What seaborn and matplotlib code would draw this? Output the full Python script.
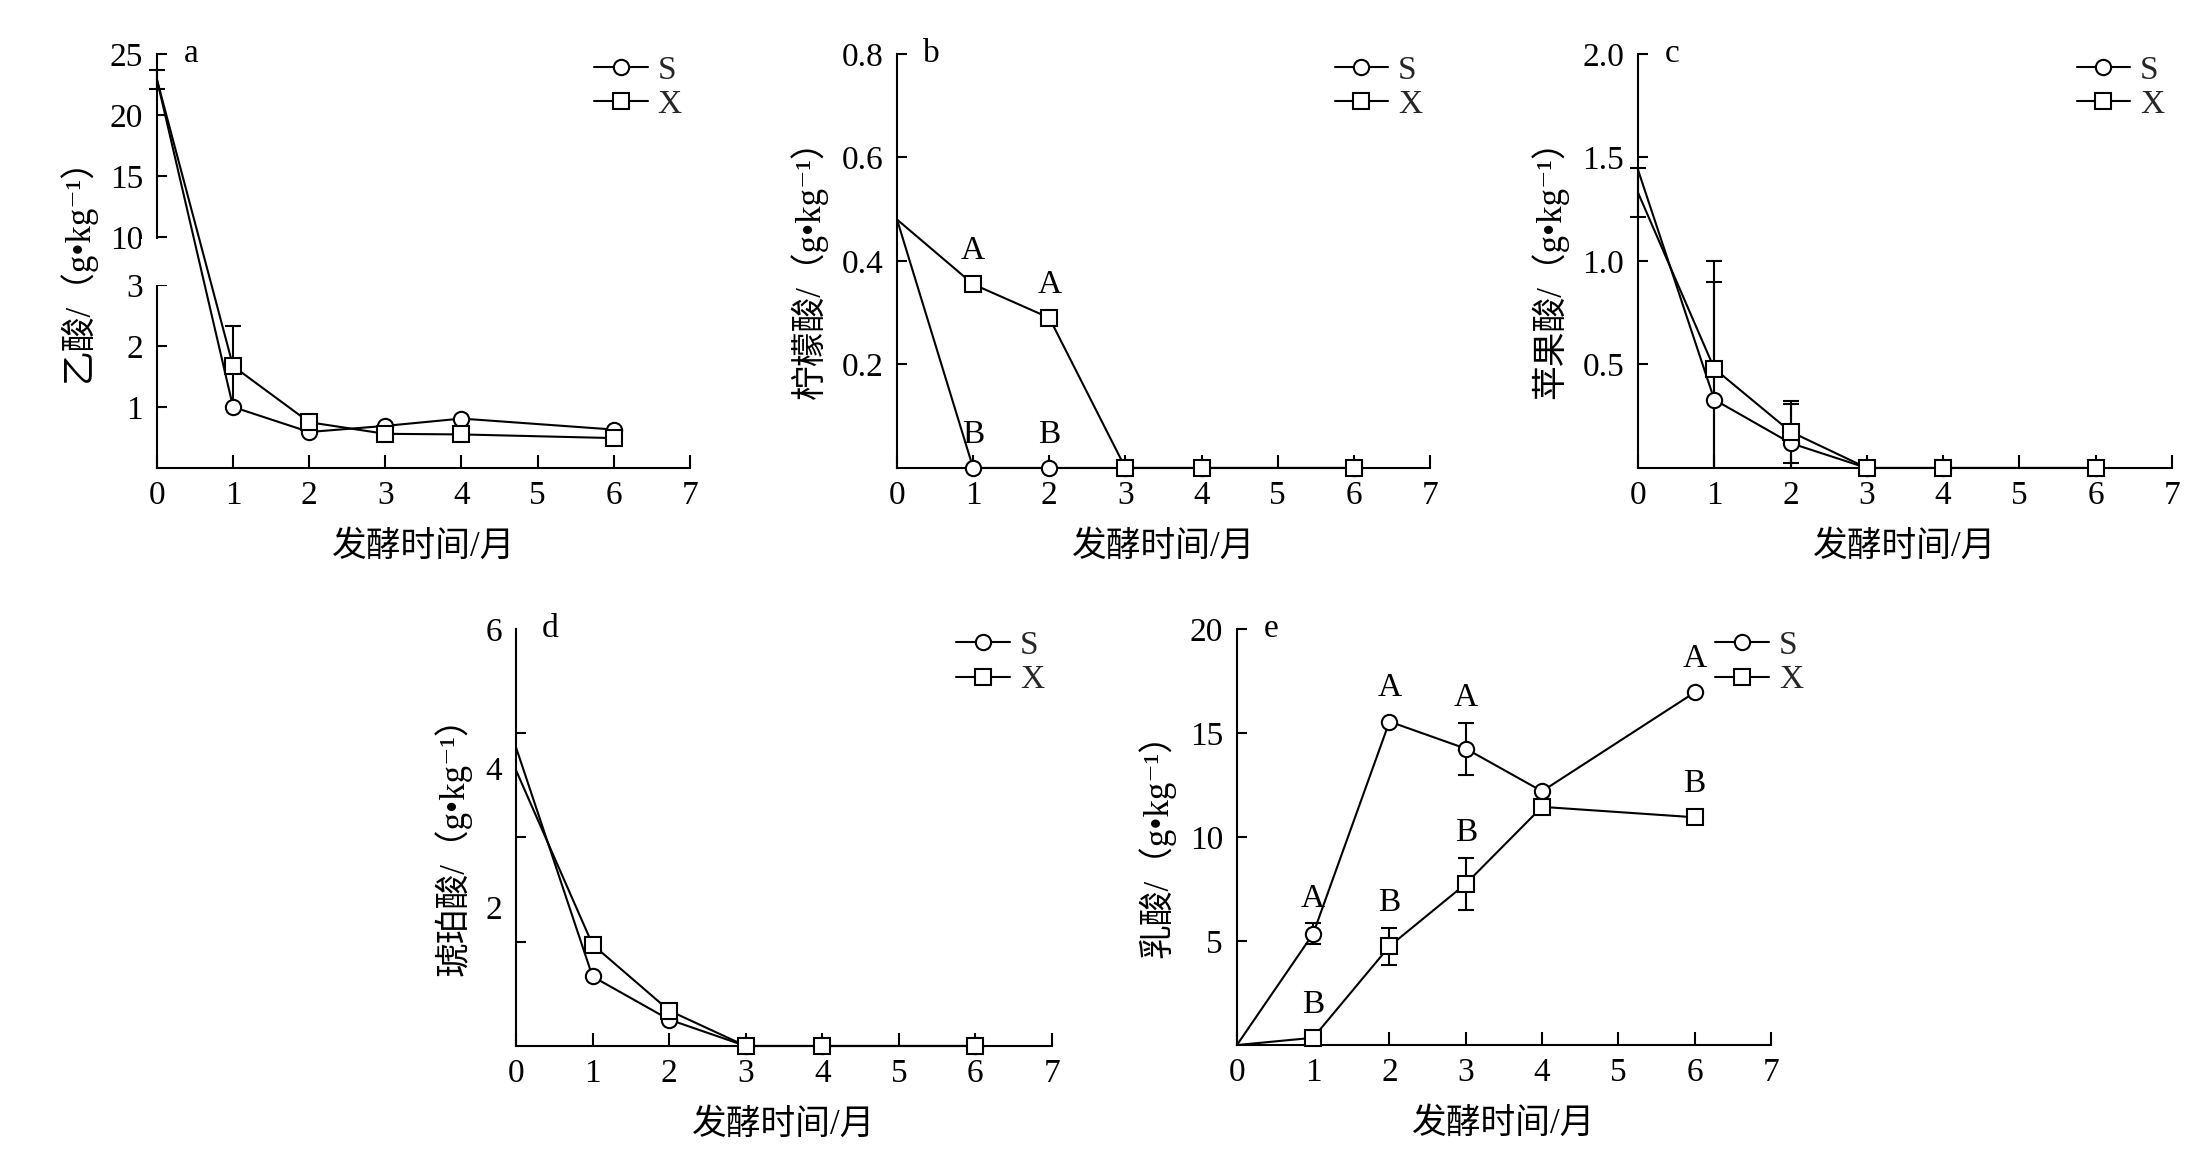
import numpy as np
import matplotlib
matplotlib.use("Agg")
import matplotlib.pyplot as plt
import seaborn as sns
from matplotlib.lines import Line2D
from matplotlib.ticker import FixedLocator, FormatStrFormatter

# ---------------- data ----------------
months = [0, 1, 2, 3, 4, 6]
xticks = [0, 1, 2, 3, 4, 5, 6, 7]
series_names = ["S", "X"]

acetic_S = [22.9, 1.00, 0.59, 0.69, 0.81, 0.63]
acetic_X = [22.9, 1.67, 0.75, 0.56, 0.55, 0.49]
acetic_S_err = [0.75, 0, 0, 0, 0, 0]
acetic_X_err = [0, 0.65, 0, 0, 0, 0]

citric_S = [0.48, 0, 0, 0, 0, 0]
citric_X = [0.48, 0.355, 0.29, 0, 0, 0]
citric_S_letters = ["", "B", "B", "", "", ""]
citric_X_letters = ["", "A", "A", "", "", ""]

malic_S = [1.44, 0.33, 0.12, 0, 0, 0]
malic_X = [1.33, 0.48, 0.175, 0, 0, 0]
malic_S_err = [0, 0.57, 0.19, 0, 0, 0]
malic_X_err = [0.12, 0.52, 0.15, 0, 0, 0]

succinic_S = [4.30, 1.00, 0.38, 0, 0, 0]
succinic_X = [3.97, 1.46, 0.51, 0, 0, 0]

lactic_S = [0, 5.35, 15.55, 14.25, 12.2, 16.95]
lactic_X = [0, 0.35, 4.75, 7.75, 11.45, 10.95]
lactic_S_err = [0, 0.5, 0, 1.25, 0, 0]
lactic_X_err = [0, 0, 0.9, 1.25, 0, 0]
lactic_S_letters = ["", "A", "A", "A", "", "A"]
lactic_X_letters = ["", "B", "B", "B", "", "B"]

zeros = [0, 0, 0, 0, 0, 0]
blank = ["", "", "", "", "", ""]

# ---------------- style ----------------
sns.set_theme(style="ticks")
plt.rcParams["font.family"] = ["Liberation Serif", "DejaVu Serif", "Noto Sans CJK SC"]
plt.rcParams["axes.unicode_minus"] = False

FS = 24
LW = 1.5
MS = 11
markers = {"S": "o", "X": "s"}

fig = plt.figure(figsize=(22.04, 11.67), dpi=100)


def draw(ax, S, X, Serr, Xerr, Slet, Xlet, ylabel, panel, legend_x=0.985):
    for name, vals, err, let in (("S", S, Serr, Slet), ("X", X, Xerr, Xlet)):
        # error bars
        for clip in (True, False):
            idx = [i for i, e in enumerate(err) if e > 0 and ((vals[i] - e < 0) == clip)]
            if idx:
                ax.errorbar([months[i] for i in idx], [vals[i] for i in idx],
                            yerr=[err[i] for i in idx], fmt="none", ecolor="black",
                            elinewidth=LW, capsize=6, capthick=LW, zorder=2.4,
                            clip_on=clip)
        sns.lineplot(x=months, y=vals, ax=ax, color="black", lw=LW,
                     marker=markers[name], markevery=list(range(1, len(months))),
                     ms=MS, mfc="white", mec="black", mew=LW, clip_on=False,
                     zorder=3, errorbar=None, legend=False)
        for i, t in enumerate(let):
            if t:
                off = 18 if err[i] > 0 else 24
                ax.annotate(t, xy=(months[i], vals[i] + err[i]), xytext=(0, off),
                            textcoords="offset points", ha="center", va="center",
                            fontsize=FS, color="black")
    ax.set_xlim(0, 7)
    ax.set_xticks(xticks)
    ax.set_xticklabels([str(t) for t in xticks])
    ax.set_xlabel("发酵时间/月", fontsize=FS + 1, labelpad=14, color="black")
    ax.set_ylabel(ylabel, fontsize=FS + 1, labelpad=10, color="black")
    sns.despine(ax=ax)
    for sp in ("left", "bottom"):
        ax.spines[sp].set_linewidth(LW)
        ax.spines[sp].set_color("black")
    ax.tick_params(axis="x", direction="in", length=9.5, width=LW, labelsize=FS,
                   pad=9, colors="black")
    ax.tick_params(axis="y", which="both", direction="in", width=LW, labelsize=FS,
                   pad=10, colors="black")
    ax.tick_params(axis="y", which="major", length=7.5)
    ax.text(0.064, 1.0, panel, transform=ax.transAxes, fontsize=FS,
            ha="center", va="center", color="black")
    handles = [Line2D([], [], color="black", lw=LW, marker=markers[n], ms=MS,
                      mfc="white", mec="black", mew=LW) for n in series_names]
    ax.legend(handles, series_names, loc="upper right",
              bbox_to_anchor=(legend_x, 0.997), frameon=False, fontsize=FS,
              handlelength=1.6, handletextpad=0.3, labelspacing=0.12,
              borderaxespad=0, borderpad=0)


ylab = "/（g•kg⁻¹）"

# ---- a: broken axis via piecewise scale ----
G = 0.79


def fwd(y):
    y = np.asarray(y, dtype=float)
    return np.where(y <= 3, y, np.where(y >= 10, 3 + G + (y - 10) / 5.0,
                                        3 + (y - 3) / 7.0 * G))


def inv(u):
    u = np.asarray(u, dtype=float)
    return np.where(u <= 3, u, np.where(u >= 3 + G, 10 + (u - 3 - G) * 5.0,
                                        3 + (u - 3) / G * 7.0))


ax_a = fig.add_axes([0.0712, 0.599, 0.2418, 0.3548])
ax_a.set_yscale("function", functions=(fwd, inv))
draw(ax_a, acetic_S, acetic_X, acetic_S_err, acetic_X_err, blank, blank,
     "乙酸" + ylab, "a")
ax_a.set_ylim(0, 25)
ax_a.yaxis.set_major_locator(FixedLocator([1, 2, 3, 10, 15, 20, 25]))
ax_a.yaxis.set_major_formatter(FormatStrFormatter("%d"))
ax_a.yaxis.set_minor_locator(FixedLocator([]))
ax_a.axhspan(3.04, 9.75, xmin=-0.03, xmax=1.02, color="white", zorder=2.7,
             clip_on=False, lw=0)

# ---- b ----
ax_b = fig.add_axes([0.407, 0.599, 0.2418, 0.3548])
draw(ax_b, citric_S, citric_X, zeros, zeros, citric_S_letters, citric_X_letters,
     "柠檬酸" + ylab, "b")
ax_b.set_ylim(0, 0.8)
ax_b.set_yticks([0.2, 0.4, 0.6, 0.8])
ax_b.yaxis.set_major_formatter(FormatStrFormatter("%.1f"))

# ---- c ----
ax_c = fig.add_axes([0.7432, 0.599, 0.2423, 0.3548])
draw(ax_c, malic_S, malic_X, malic_S_err, malic_X_err, blank, blank,
     "苹果酸" + ylab, "c")
ax_c.set_ylim(0, 2.0)
ax_c.set_yticks([0.5, 1.0, 1.5, 2.0])
ax_c.yaxis.set_major_formatter(FormatStrFormatter("%.1f"))

# ---- d ----
ax_d = fig.add_axes([0.2341, 0.1037, 0.2432, 0.3573])
draw(ax_d, succinic_S, succinic_X, zeros, zeros, blank, blank,
     "琥珀酸" + ylab, "d")
ax_d.set_ylim(0, 6)
ax_d.set_yticks([2, 4, 6])
ax_d.yaxis.set_major_formatter(FormatStrFormatter("%d"))
ax_d.set_yticks([1.5, 3, 4.5, 6], minor=True)
ax_d.tick_params(axis="y", which="major", length=0)
ax_d.tick_params(axis="y", which="minor", length=7.5, width=LW)

# ---- e ----
ax_e = fig.add_axes([0.5612, 0.1045, 0.2423, 0.3565])
draw(ax_e, lactic_S, lactic_X, lactic_S_err, lactic_X_err, lactic_S_letters,
     lactic_X_letters, "乳酸" + ylab, "e", legend_x=1.06)
ax_e.set_ylim(0, 20)
ax_e.set_yticks([5, 10, 15, 20])
ax_e.yaxis.set_major_formatter(FormatStrFormatter("%d"))

fig.savefig("out.png", dpi=100, facecolor="white")
